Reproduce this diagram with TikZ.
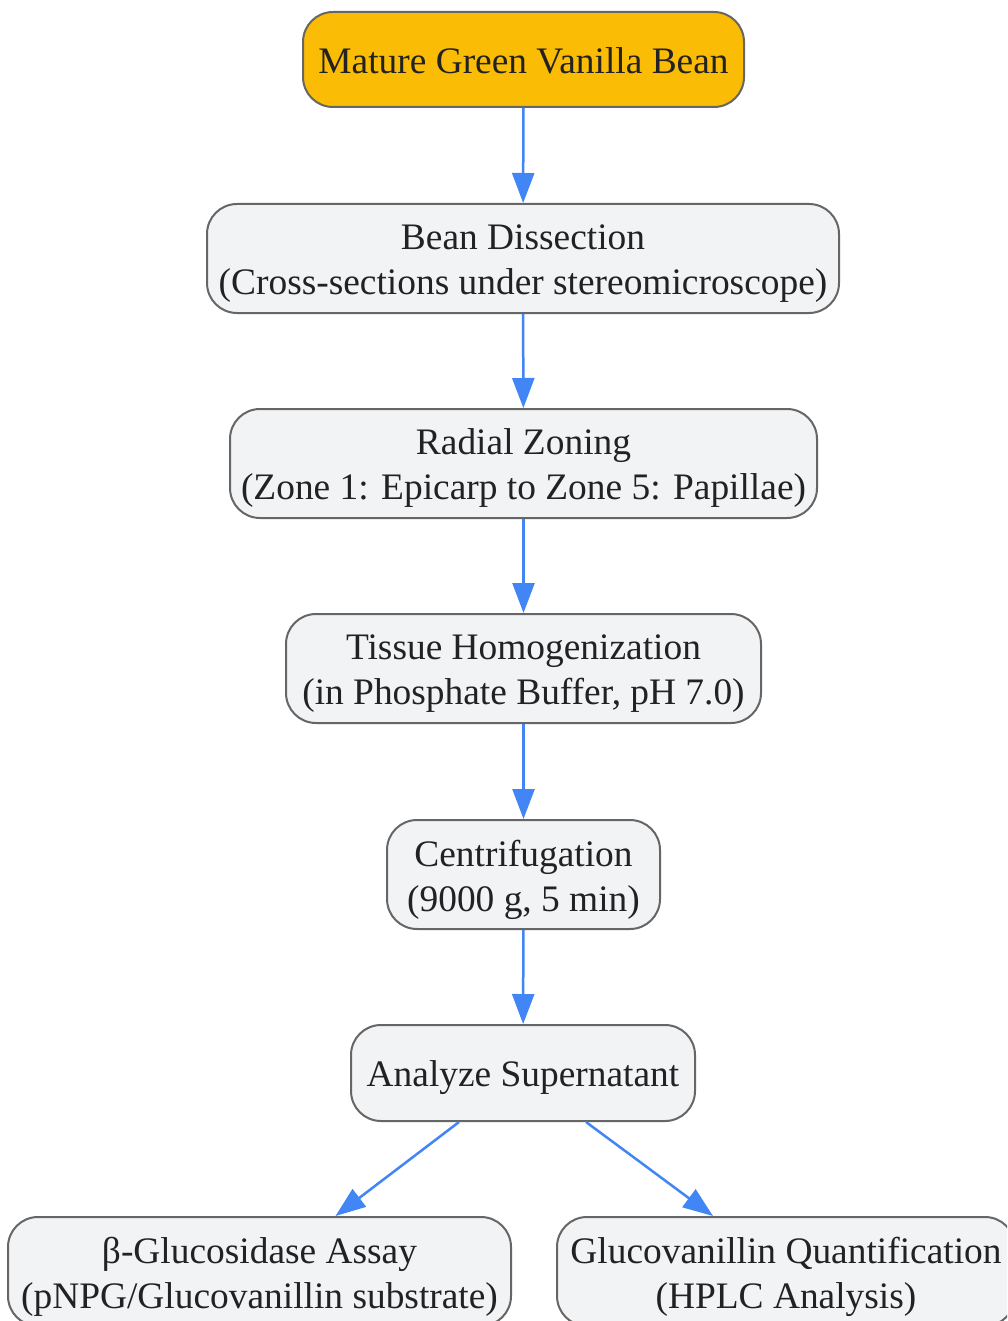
\documentclass[tikz,border=0pt]{standalone}
\usepackage{fontspec}
\setmainfont{Liberation Serif}
\usetikzlibrary{arrows.meta}
\definecolor{startfill}{HTML}{FBBC05}
\definecolor{boxfill}{HTML}{F1F3F5}
\definecolor{boxline}{HTML}{666666}
\definecolor{arrowc}{HTML}{4285F4}
\definecolor{textc}{HTML}{222222}
\tikzset{
  box/.style={draw=boxline, line width=2pt, fill=boxfill, rounded corners=30pt,
    inner sep=0pt},
  txt/.style={align=center, text=textc, inner sep=0pt, yshift=-5pt,
    font=\fontsize{37.4}{45}\selectfont},
  flow/.style={draw=arrowc, line width=2.5pt, -{Triangle[length=30pt,width=22pt]}},
}
\begin{document}
\begin{tikzpicture}[x=1pt,y=-1pt]
\useasboundingbox (0,0) rectangle (1007,1321);
\clip (0,0) rectangle (1007,1321);
\fill[white] (0,0) rectangle (1007,1321);
\node[box, fill=startfill, minimum width=441pt, minimum height=95pt,
  label={[txt, yshift=3.5pt]center:Mature Green Vanilla Bean}] (n1) at (523.5,59.5) {};
\node[box, minimum width=632pt, minimum height=109pt,
  label={[txt]center:{Bean Dissection\\(Cross-sections under stereomicroscope)}}] (n2) at (523,258.5) {};
\node[box, minimum width=587pt, minimum height=109pt,
  label={[txt]center:{Radial Zoning\\(Zone 1: Epicarp to Zone 5: Papillae)}}] (n3) at (523.5,463.5) {};
\node[box, minimum width=475pt, minimum height=109pt,
  label={[txt]center:{Tissue Homogenization\\(in Phosphate Buffer, pH 7.0)}}] (n4) at (523.5,668.5) {};
\node[box, minimum width=273pt, minimum height=109pt,
  label={[txt]center:{Centrifugation\\(9000 g, 5 min)}}] (n5) at (523.5,874.5) {};
\node[box, minimum width=344pt, minimum height=96pt,
  label={[txt]center:Analyze Supernatant}] (n6) at (523,1073) {};
\node[box, minimum width=503pt, minimum height=109pt,
  label={[txt]center:{β-Glucosidase Assay\\(pNPG/Glucovanillin substrate)}}] (n7) at (259.5,1271.5) {};
\node[box, minimum width=458pt, minimum height=109pt,
  label={[txt]center:{Glucovanillin Quantification\\(HPLC Analysis)}}] (n8) at (786,1271.5) {};
\draw[flow] (n1) -- (n2);
\draw[flow] (n2) -- (n3);
\draw[flow] (n3) -- (n4);
\draw[flow] (n4) -- (n5);
\draw[flow] (n5) -- (n6);
\draw[flow] ([xshift=-64pt]n6.south) -- ([xshift=76pt]n7.north);
\draw[flow] ([xshift=63pt]n6.south) -- ([xshift=-73pt]n8.north);
\end{tikzpicture}
\end{document}
